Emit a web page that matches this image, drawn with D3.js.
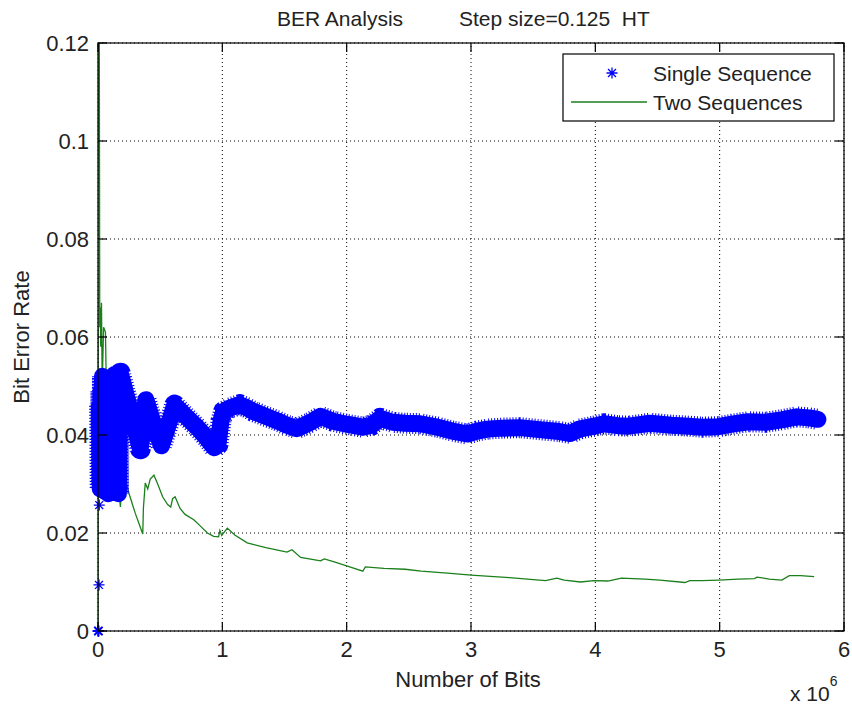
<!DOCTYPE html>
<html>
<head>
<meta charset="utf-8">
<script src="https://cdnjs.cloudflare.com/ajax/libs/d3/7.8.5/d3.min.js"></script>
<style>
  body { margin: 0; background: #fff; }
  text { font-family: "Liberation Sans", Arial, sans-serif; fill: #222; }
</style>
</head>
<body>
<div id="container"></div>
<script>
// ticks
var xTicks = [0, 1, 2, 3, 4, 5, 6]
var yTicks = [0, 0.02, 0.04, 0.06, 0.08, 0.1, 0.12]
var yTickLabels = ["0", "0.02", "0.04", "0.06", "0.08", "0.1", "0.12"]

// Single Sequence (x in millions of bits) - first sparse points, drawn as lone stars
var singleSparseX = [0, 0.002, 0.004, 0.006, 0.008, 0.010]
var singleSparseY = [0, 0, 0, 0, 0.0094, 0.0257]

// Single Sequence - dense part (shows as a thick band of stars)
var singleX = [0.012, 0.018, 0.024, 0.030, 0.036, 0.042, 0.048, 0.054, 0.060, 0.068, 0.076, 0.084,
  0.092, 0.100, 0.108, 0.116, 0.124, 0.132, 0.140, 0.148, 0.156, 0.164, 0.172, 0.179,
  0.26, 0.34, 0.385, 0.45, 0.51, 0.617, 0.70, 0.80, 0.88, 0.935, 0.965, 0.99, 1.01,
  1.06, 1.14, 1.2, 1.25, 1.36, 1.44, 1.52, 1.6, 1.71, 1.79, 1.89, 2.0, 2.13, 2.2, 2.27,
  2.37, 2.47, 2.59, 2.73, 2.85, 2.97, 3.05, 3.13, 3.25, 3.39, 3.55, 3.71, 3.8, 3.87,
  3.99, 4.07, 4.18, 4.27, 4.44, 4.61, 4.75, 4.86, 4.99, 5.1, 5.23, 5.37, 5.5, 5.62,
  5.72, 5.79]
var singleY = [0.046, 0.029, 0.049, 0.030, 0.052, 0.031, 0.050, 0.029, 0.047, 0.031, 0.040, 0.028,
  0.038, 0.030, 0.046, 0.029, 0.050, 0.030, 0.052, 0.029, 0.050, 0.028, 0.048, 0.0526,
  0.0450, 0.0372, 0.0472, 0.0420, 0.0378, 0.0461, 0.0440, 0.0415, 0.0392, 0.0374, 0.0380, 0.0430, 0.0448,
  0.0455, 0.0462, 0.0455, 0.0448, 0.0437, 0.0429, 0.0420, 0.0413, 0.0426, 0.0438, 0.0428, 0.0422, 0.0416, 0.0420, 0.0434,
  0.0426, 0.0424, 0.0423, 0.0416, 0.0408, 0.0402, 0.0408, 0.0412, 0.0414, 0.0415, 0.0411, 0.0407, 0.0403, 0.0412,
  0.0418, 0.0423, 0.0419, 0.0418, 0.0424, 0.0420, 0.0418, 0.0416, 0.0417, 0.0422, 0.0427, 0.0426, 0.0431, 0.0437,
  0.0435, 0.0432]

// Two Sequences
var twoX = [0, 0.002, 0.004, 0.006, 0.008, 0.010, 0.012, 0.014, 0.018, 0.022, 0.028, 0.034, 0.045,
  0.06, 0.07, 0.085, 0.1, 0.12, 0.14, 0.16, 0.18, 0.2, 0.25, 0.3, 0.36, 0.365, 0.38, 0.4,
  0.42, 0.45, 0.48, 0.52, 0.56, 0.585, 0.6, 0.62, 0.66, 0.7, 0.77, 0.82, 0.88, 0.93, 0.97,
  0.98, 0.995, 1.04, 1.1, 1.2, 1.35, 1.52, 1.56, 1.63, 1.79, 1.82, 1.9, 2.0, 2.13, 2.15,
  2.3, 2.47, 2.6, 2.81, 3.0, 3.31, 3.5, 3.6, 3.69, 3.75, 3.88, 3.99, 4.1, 4.21, 4.4, 4.52,
  4.72, 4.76, 4.86, 4.99, 5.15, 5.28, 5.3, 5.4, 5.5, 5.56, 5.65, 5.76]
var twoY = [0, 0.2, 0.097, 0.16, 0.098, 0.13, 0.096, 0.062, 0.066, 0.058, 0.067, 0.050, 0.062,
  0.061, 0.045, 0.035, 0.030, 0.033, 0.027, 0.031, 0.0253, 0.033, 0.028, 0.024, 0.0198, 0.025, 0.0302, 0.029,
  0.031, 0.0318, 0.030, 0.0274, 0.0258, 0.0253, 0.027, 0.0274, 0.025, 0.0238, 0.0227, 0.0215, 0.0200, 0.0193, 0.0192,
  0.0205, 0.0195, 0.021, 0.0196, 0.018, 0.017, 0.0161, 0.0166, 0.0150, 0.0143, 0.0147, 0.0141, 0.0133, 0.0122, 0.0131,
  0.0128, 0.0126, 0.0122, 0.0118, 0.0114, 0.0109, 0.0105, 0.0103, 0.0108, 0.0104, 0.0100, 0.0103, 0.0102, 0.0108, 0.0106, 0.0104,
  0.0099, 0.0103, 0.0103, 0.0104, 0.0106, 0.0107, 0.0110, 0.0106, 0.0104, 0.0113, 0.0113, 0.0111]

var seriesNames = ["Single Sequence", "Two Sequences"]
var titleParts = ["BER Analysis", "Step size=0.125  HT"]

var width = 852, height = 707
var margin = { top: 43, right: 8, bottom: 76, left: 98 }
var blue = "#0000ff", green = "#1b7f1b"

var svg = d3.select("#container").append("svg")
    .attr("width", width).attr("height", height)
    .style("background", "#fff")

var x = d3.scaleLinear().domain([0, 6]).range([margin.left, width - margin.right])
var y = d3.scaleLinear().domain([0, 0.12]).range([height - margin.bottom, margin.top])

svg.append("clipPath").attr("id", "clip")
  .append("rect")
    .attr("x", x(0)).attr("y", y(0.12))
    .attr("width", x(6) - x(0)).attr("height", y(0) - y(0.12))

// grid (dotted)
var grid = svg.append("g")
grid.selectAll(".vgrid").data(xTicks).enter().append("line")
  .attr("x1", d => x(d)).attr("x2", d => x(d))
  .attr("y1", y(0)).attr("y2", y(0.12))
  .attr("stroke", "#000").attr("stroke-width", 1).attr("stroke-dasharray", "1,3")
grid.selectAll(".hgrid").data(yTicks).enter().append("line")
  .attr("y1", d => y(d)).attr("y2", d => y(d))
  .attr("x1", x(0)).attr("x2", x(6))
  .attr("stroke", "#000").attr("stroke-width", 1).attr("stroke-dasharray", "1,3")

// star marker like matlab '*'
function starPath(r) {
  var d = r * 0.72
  return "M0," + (-r) + "L0," + r + "M" + (-r) + ",0L" + r + ",0" +
    "M" + (-d) + "," + (-d) + "L" + d + "," + d + "M" + (-d) + "," + d + "L" + d + "," + (-d)
}

var plot = svg.append("g").attr("clip-path", "url(#clip)")

var single = singleX.map((v, i) => [v, singleY[i]])
var sparse = singleSparseX.map((v, i) => [v, singleSparseY[i]])
var two = twoX.map((v, i) => [v, twoY[i]])

var line = d3.line().x(d => x(d[0])).y(d => y(d[1]))

// dense stars -> band
svg.append("path").datum(single)
  .attr("d", line)
  .attr("fill", "none").attr("stroke", blue)
  .attr("stroke-width", 17).attr("stroke-linejoin", "round").attr("stroke-linecap", "round")
svg.append("path").datum(single)
  .attr("d", line)
  .attr("fill", "none").attr("stroke", blue)
  .attr("stroke-width", 21).attr("stroke-dasharray", "1,2")
  .attr("stroke-linejoin", "round")

svg.selectAll(".star").data(sparse.concat(single)).enter().append("path")
  .attr("transform", d => "translate(" + x(d[0]) + "," + y(d[1]) + ")")
  .attr("d", starPath(5.5))
  .attr("fill", "none").attr("stroke", blue).attr("stroke-width", 1.3)

plot.append("path").datum(two)
  .attr("d", line)
  .attr("fill", "none").attr("stroke", green).attr("stroke-width", 1.3)

// box
svg.append("rect")
  .attr("x", x(0)).attr("y", y(0.12))
  .attr("width", x(6) - x(0)).attr("height", y(0) - y(0.12))
  .attr("fill", "none").attr("stroke", "#000").attr("stroke-width", 1.2)

// inward ticks on all sides
var tl = 9
var ticks = svg.append("g").attr("stroke", "#000").attr("stroke-width", 1.2)
xTicks.forEach(function(t) {
  ticks.append("line").attr("x1", x(t)).attr("x2", x(t)).attr("y1", y(0)).attr("y2", y(0) - tl)
  ticks.append("line").attr("x1", x(t)).attr("x2", x(t)).attr("y1", y(0.12)).attr("y2", y(0.12) + tl)
})
yTicks.forEach(function(t) {
  ticks.append("line").attr("y1", y(t)).attr("y2", y(t)).attr("x1", x(0)).attr("x2", x(0) + tl)
  ticks.append("line").attr("y1", y(t)).attr("y2", y(t)).attr("x1", x(6)).attr("x2", x(6) - tl)
})

// tick labels
svg.selectAll(".xl").data(xTicks).enter().append("text")
  .attr("x", d => x(d)).attr("y", y(0) + 26)
  .attr("text-anchor", "middle").style("font-size", "22px")
  .text(d => d)
svg.selectAll(".yl").data(yTicks).enter().append("text")
  .attr("x", x(0) - 9).attr("y", d => y(d)).attr("dy", "0.35em")
  .attr("text-anchor", "end").style("font-size", "22px")
  .text((d, i) => yTickLabels[i])

// axis titles
svg.append("text")
  .attr("x", 468).attr("y", 687)
  .attr("text-anchor", "middle").style("font-size", "22px")
  .text("Number of Bits")
var exp = svg.append("text").attr("x", 790).attr("y", 701).style("font-size", "21px")
exp.append("tspan").text("x 10")
exp.append("tspan").attr("dy", -15).style("font-size", "14px").text("6")

svg.append("text")
  .attr("transform", "translate(29," + ((y(0) + y(0.12)) / 2) + ") rotate(-90)")
  .attr("text-anchor", "middle").style("font-size", "22px")
  .text("Bit Error Rate")

var ttl = svg.append("text").attr("y", 26).style("font-size", "21px")
ttl.append("tspan").attr("x", 277).text(titleParts[0])
ttl.append("tspan").attr("x", 459).style("white-space", "pre").attr("xml:space", "preserve").text(titleParts[1])

// legend
var lg = svg.append("g")
lg.append("rect").attr("x", 563).attr("y", 54).attr("width", 271).attr("height", 67)
  .attr("fill", "#fff").attr("stroke", "#000").attr("stroke-width", 1.2)
lg.append("path").attr("transform", "translate(612,73)").attr("d", starPath(5.5))
  .attr("fill", "none").attr("stroke", blue).attr("stroke-width", 1.3)
lg.append("line").attr("x1", 571).attr("x2", 647).attr("y1", 102).attr("y2", 102)
  .attr("stroke", green).attr("stroke-width", 1.3)
lg.selectAll(".lt").data(seriesNames).enter().append("text")
  .attr("x", 653).attr("y", (d, i) => 81 + i * 29)
  .style("font-size", "21px")
  .text(d => d)
</script>
</body>
</html>
